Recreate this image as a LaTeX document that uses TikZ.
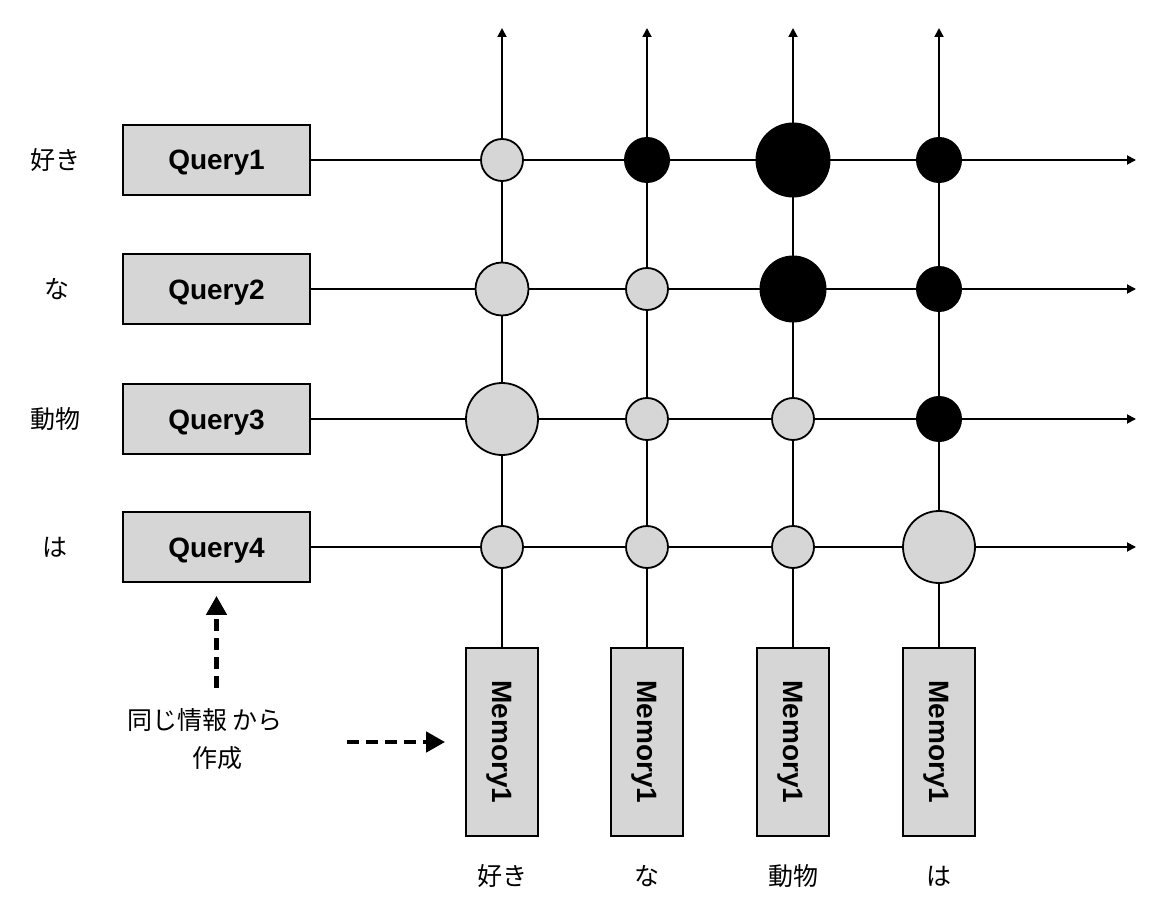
\documentclass[tikz,border=0pt]{standalone}
\usepackage{fontspec}
\setmainfont{Liberation Sans}
\newfontfamily\jp{Noto Sans CJK JP}
\usetikzlibrary{arrows.meta}
\definecolor{boxgray}{RGB}{214,214,214}

\begin{document}
\begin{tikzpicture}[x=1pt,y=-1pt]
\tikzset{
  every node/.append style={inner sep=0pt},
  query/.style={draw=black, fill=boxgray, line width=1.8pt, minimum width=187pt, minimum height=70pt, text height=20pt, text depth=0pt, font=\fontsize{28}{32}\selectfont\bfseries},
  memory/.style={draw=black, fill=boxgray, line width=1.8pt, rotate=-90, minimum width=188pt, minimum height=72pt, text height=20pt, text depth=0pt, font=\fontsize{28}{32}\selectfont\bfseries},
  word/.style={font=\jp\fontsize{25}{38}\selectfont},
  wire/.style={line width=1.8pt, -{Triangle[length=9pt,width=9pt]}},
  light/.style={circle, draw=black, fill=boxgray, line width=1.8pt},
  heavy/.style={circle, fill=black},
  hint/.style={line width=4.5pt, dash pattern=on 12pt off 7pt, -{Triangle[length=19pt,width=20pt]}}
}
\useasboundingbox (0,0) rectangle (1156,901);

% queries
\node[query] (q1) at (216.5,160) {Query1};
\node[query] (q2) at (216.5,289) {Query2};
\node[query] (q3) at (216.5,419) {Query3};
\node[query] (q4) at (216.5,547) {Query4};

% memories
\node[memory] (m1) at (502,742) {Memory1};
\node[memory] (m2) at (647,742) {Memory1};
\node[memory] (m3) at (793,742) {Memory1};
\node[memory] (m4) at (939,742) {Memory1};

% words
\node[word] (w1) at (55,160) {好き};
\node[word] (w2) at (57,289) {な};
\node[word] (w3) at (55,419) {動物};
\node[word] (w4) at (55,547) {は};
\node[word] (b1) at (502,876) {好き};
\node[word] (b2) at (647,876) {な};
\node[word] (b3) at (793,876) {動物};
\node[word] (b4) at (939,876) {は};

% free ends
\coordinate (r1) at (1136,160);
\coordinate (r2) at (1136,289);
\coordinate (r3) at (1136,419);
\coordinate (r4) at (1136,547);
\coordinate (t1) at (502,28);
\coordinate (t2) at (647,28);
\coordinate (t3) at (793,28);
\coordinate (t4) at (939,28);

\draw[wire] (q1) -- (r1);
\draw[wire] (q2) -- (r2);
\draw[wire] (q3) -- (r3);
\draw[wire] (q4) -- (r4);
\draw[wire] (m1) -- (t1);
\draw[wire] (m2) -- (t2);
\draw[wire] (m3) -- (t3);
\draw[wire] (m4) -- (t4);

% weights
\node[light, minimum size=42pt] (c11) at (502,160) {};
\node[heavy, minimum size=46pt] (c12) at (647,160) {};
\node[heavy, minimum size=75pt] (c13) at (793,160) {};
\node[heavy, minimum size=46pt] (c14) at (939,160) {};
\node[light, minimum size=53pt] (c21) at (502,289) {};
\node[light, minimum size=42pt] (c22) at (647,289) {};
\node[heavy, minimum size=67pt] (c23) at (793,289) {};
\node[heavy, minimum size=46pt] (c24) at (939,289) {};
\node[light, minimum size=72pt] (c31) at (502,419) {};
\node[light, minimum size=42pt] (c32) at (647,419) {};
\node[light, minimum size=42pt] (c33) at (793,419) {};
\node[heavy, minimum size=46pt] (c34) at (939,419) {};
\node[light, minimum size=42pt] (c41) at (502,547) {};
\node[light, minimum size=42pt] (c42) at (647,547) {};
\node[light, minimum size=42pt] (c43) at (793,547) {};
\node[light, minimum size=72pt] (c44) at (939,547) {};

% note
\node[word, align=center] (note) at (205,739) {同じ情報 から\\\hspace*{24pt}作成};
\coordinate (u0) at (216.5,688);
\coordinate (s0) at (347,742);
\draw[hint, shorten >=13pt] (u0) -- (q4);
\draw[hint, shorten >=20pt] (s0) -- (m1);
\end{tikzpicture}
\end{document}
